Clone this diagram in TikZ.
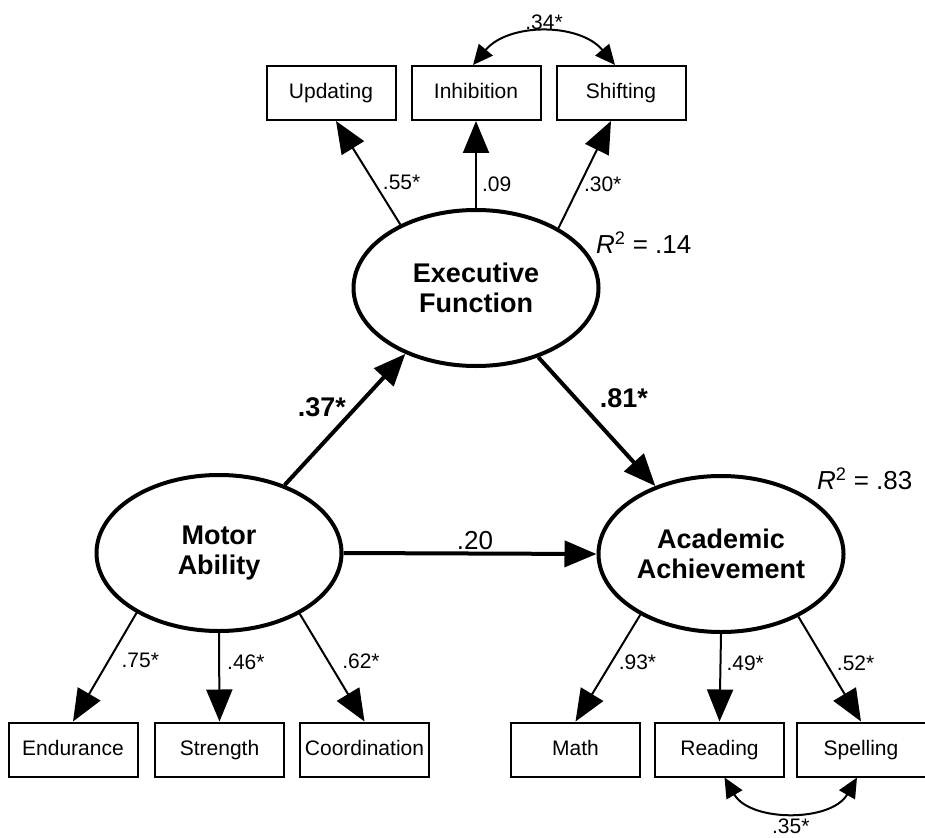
\documentclass[tikz,border=0pt]{standalone}
\usepackage{fontspec}
\setmainfont{Liberation Sans}
\usetikzlibrary{shapes.geometric, arrows.meta}

\begin{document}
\begin{tikzpicture}[
  x=1pt, y=-1pt,
  box/.style={rectangle, draw, line width=2pt, minimum width=129pt, minimum height=54pt,
    text height=15pt, text depth=4pt, font=\fontsize{21}{24}\selectfont},
  latent/.style={ellipse, draw, line width=4pt, minimum width=245pt, minimum height=156pt,
    inner sep=0pt, align=center, font=\bfseries\fontsize{27}{30}\selectfont},
  loading/.style={-{Triangle[length=32pt, width=26pt]}, line width=2pt},
  path/.style={-{Triangle[length=32pt, width=26pt]}, line width=4pt},
  corr/.style={{Triangle[length=20pt, width=18pt]}-{Triangle[length=20pt, width=18pt]}, line width=2pt},
  coef/.style={inner sep=2pt, font=\fontsize{21}{24}\selectfont},
  bigcoef/.style={inner sep=2pt, font=\bfseries\fontsize{27}{30}\selectfont}
]
\useasboundingbox (0,0) rectangle (925,837);

% Executive function indicators
\node[box] (updating) at (331,93) {Updating};
\node[box] (inhibition) at (476,93) {Inhibition};
\node[box] (shifting) at (621,93) {Shifting};

% Latent variables
\node[latent] (exec) at (476,288) {Executive\\Function};
\node[latent] (motor) at (219,553) {Motor\\Ability};
\node[latent] (acad) at (721,554) {Academic\\Achievement};

% Motor ability indicators
\node[box] (endurance) at (73,749.5) {Endurance};
\node[box] (strength) at (219.5,749.5) {Strength};
\node[box] (coordination) at (364.5,749.5) {Coordination};

% Academic achievement indicators
\node[box] (math) at (575.5,749.5) {Math};
\node[box] (reading) at (719.5,749.5) {Reading};
\node[box] (spelling) at (861,749.5) {Spelling};

% Explained variance
\node[anchor=west, inner sep=0pt, font=\fontsize{26}{28}\selectfont] (rsqexec) at (596,243)
  {\itshape R\upshape\textsuperscript{2} = .14};
\node[anchor=west, inner sep=0pt, font=\fontsize{26}{28}\selectfont] (rsqacad) at (817,479)
  {\itshape R\upshape\textsuperscript{2} = .83};

% Loadings
\draw[loading] (exec.140) -- node[coef, pos=0.41, anchor=west, xshift=6pt] (l55) {.55*} ([xshift=5pt]updating.south);
\draw[loading] (exec.north) -- node[coef, pos=0.27, anchor=west, xshift=3pt] (l09) {.09} (inhibition.south);
\draw[loading] (exec.36) -- node[coef, pos=0.41, anchor=west, xshift=1pt] (l30) {.30*} ([xshift=-10pt]shifting.south);
\draw[loading] (motor.216) -- node[coef, pos=0.44, anchor=west, xshift=10pt] (l75) {.75*} (endurance.north);
\draw[loading] (motor.south) -- node[coef, pos=0.33, anchor=west, xshift=5pt] (l46) {.46*} (strength.north);
\draw[loading] (motor.323) -- node[coef, pos=0.44, anchor=west, xshift=11pt] (l62) {.62*} (coordination.north);
\draw[loading] (acad.217) -- node[coef, pos=0.44, anchor=west, xshift=4pt] (l93) {.93*} (math.north);
\draw[loading] (acad.south) -- node[coef, pos=0.33, anchor=west, xshift=3pt] (l49) {.49*} (reading.north);
\draw[loading] (acad.321) -- node[coef, pos=0.44, anchor=west, xshift=8pt] (l52) {.52*} (spelling.north);

% Structural paths
\draw[path] (motor.46) -- node[bigcoef, pos=0.59, anchor=east, xshift=-6pt] (p37) {.37*} (exec.223);
\draw[path] (exec.312) -- node[bigcoef, pos=0.32, anchor=west, xshift=20pt] (p81) {.81*} (acad.134);
\draw[path] (motor.east) -- node[coef, font=\fontsize{26}{28}\selectfont, pos=0.52, above] (p20) {.20} (acad.west);

% Residual correlations
\draw[corr] ([xshift=-3pt]inhibition.north) to[bend left=50] node[coef, above] (c34) {.34*} ([xshift=-6pt]shifting.north);
\draw[corr] ([xshift=5pt]reading.south) to[bend right=60] node[coef, below, yshift=-5pt] (c35) {.35*} ([xshift=-4pt]spelling.south);

\end{tikzpicture}
\end{document}
